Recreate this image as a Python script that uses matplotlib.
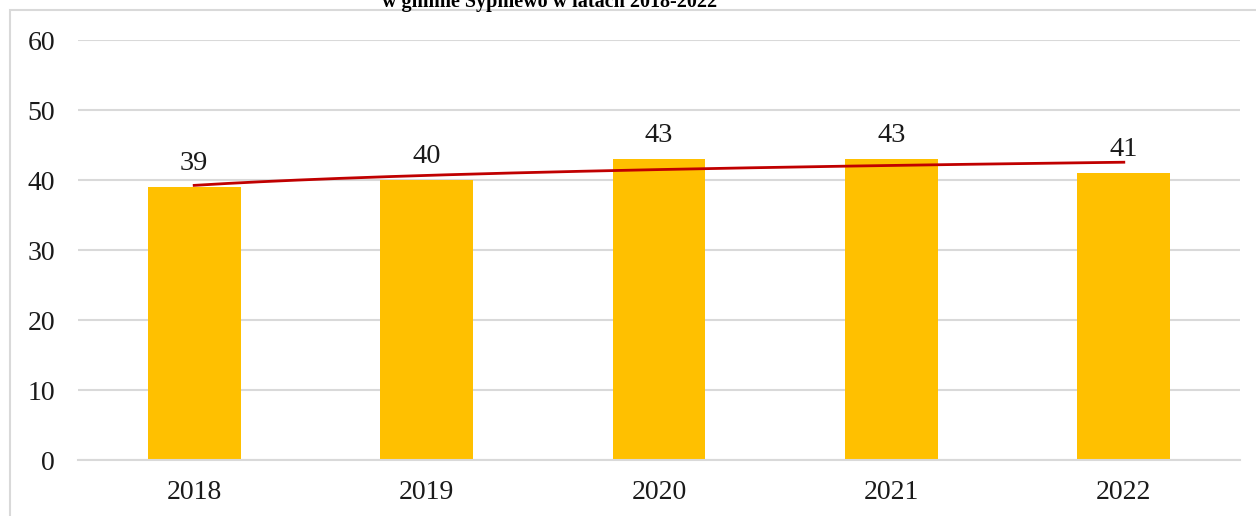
import numpy as np
import matplotlib.pyplot as plt
import matplotlib.patches as patches

years = ['2018', '2019', '2020', '2021', '2022']
values = [39, 40, 43, 43, 41]
title = 'w gminie Sypniewo w latach 2018-2022'

plt.rcParams['font.family'] = ['Liberation Serif', 'DejaVu Serif']

W, H = 1256, 516
fig = plt.figure(figsize=(W / 100, H / 100), dpi=100)

# axes placed in pixel terms: x 78..1240, y 40..460
ax = fig.add_axes([78 / W, 1 - 460 / H, (1240 - 78) / W, (460 - 40) / H])

x = np.arange(len(years))
ax.bar(x, values, width=0.4, color='#FFC000', zorder=2)

for xi, v in zip(x, values):
    ax.annotate(str(v), (xi, v), xytext=(0, 12.5), textcoords='offset points',
                ha='center', va='baseline', fontsize=20.5, color='#1a1a1a')

# logarithmic trendline (as Excel would fit it)
lx = np.log(x + 1)
a, b = np.polyfit(lx, values, 1)
xs = np.linspace(0, len(years) - 1, 200)
ax.plot(xs, a * np.log(xs + 1) + b, color='#C00000', lw=2, zorder=3)

ax.set_xlim(-0.5, len(years) - 0.5)
ax.set_ylim(0, 60)
ax.set_yticks(range(0, 61, 10))
ax.set_xticks(x)
ax.set_xticklabels(years)
ax.yaxis.grid(True, color='#D9D9D9', lw=1.5, zorder=0)
ax.set_axisbelow(True)
for s in ['top', 'right', 'left']:
    ax.spines[s].set_visible(False)
ax.spines['bottom'].set_color('#D9D9D9')
ax.spines['bottom'].set_linewidth(1.5)
ax.tick_params(length=0, labelsize=20, colors='#1a1a1a')
ax.tick_params(axis='y', pad=16.5)
ax.tick_params(axis='x', pad=14.5)

# chart frame (extends past right and bottom edges)
fig.patches.append(patches.Rectangle((10 / W, -0.1), 1.2, 1 - 10 / H + 0.1,
                                     transform=fig.transFigure, fill=False,
                                     edgecolor='#D9D9D9', lw=1.5))

fig.text(550 / W, 1 - 7 / H, title, ha='center', va='baseline',
         fontsize=14.5, fontweight='bold')

fig.savefig('out.png', dpi=100)
